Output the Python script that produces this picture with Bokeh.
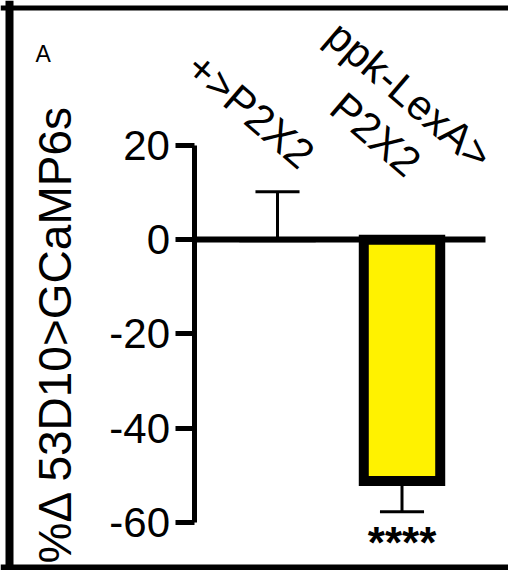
from bokeh.plotting import figure
from bokeh.models import (Range1d, LinearAxis, FixedTicker, Span, Label, ColumnDataSource,
                          PrintfTickFormatter)
from bokeh.core.properties import value
from bokeh.embed import file_html
from bokeh.resources import INLINE

# ---- data ----
categories = ["+>P2X2", "ppk-LexA>\nP2X2"]
means = [0.0, -51.2]
sems = [10.2, 6.5]
significance = ["", "****"]
y_ticks = [20, 0, -20, -40, -60]
y_label = "%\u0394 53D10>GCaMP6s"
panel_letter = "A"

# ---- styles / layout ----
FONT = "Liberation Sans"
bar_fill = ["white", "#FFF200"]
bar_line_w = [5, 10]
BAR_W = 0.614
CAP_HALF = 0.177
YAXIS_X = 0.3373
XAXIS_END = 2.6707
lbl_dx = [-0.217, -0.076]
lbl_y = [27.4, 26.5]

W, H = 508, 570
p = figure(width=W, height=H,
           x_range=Range1d(-1.2249, 2.8554), y_range=Range1d(-70.19, 50.77),
           x_axis_type=None, y_axis_type=None,
           toolbar_location=None, output_backend="svg", min_border=0)
p.outline_line_color = None
p.background_fill_color = "white"
p.border_fill_color = "white"

xs = [i + 1 for i in range(len(categories))]
tips = [m + (s if m >= 0 else -s) for m, s in zip(means, sems)]

src = ColumnDataSource(dict(x=xs, top=means, bottom=[0] * len(xs), fill=bar_fill, lw=bar_line_w,
                            tip=tips, x0=[x - CAP_HALF for x in xs], x1=[x + CAP_HALF for x in xs],
                            sig=significance))

# error bars (stems + caps)
p.segment(x0="x", y0="top", x1="x", y1="tip", source=src, line_color="black", line_width=3)
p.segment(x0="x0", y0="tip", x1="x1", y1="tip", source=src, line_color="black", line_width=3)

# bars
p.vbar(x="x", width=BAR_W, top="top", bottom="bottom", source=src,
       fill_color="fill", line_color="black", line_width="lw", line_join="miter")

# significance
p.text(x="x", y="tip", text="sig", source=src, y_offset=31,
       text_align="center", text_baseline="middle",
       text_font=value(FONT), text_font_size="44px", text_font_style="bold",
       text_color="black")

# category labels (rotated, above)
p.text(x=[x + d for x, d in zip(xs, lbl_dx)], y=lbl_y, text=categories, angle=-0.71,
       text_align="center", text_baseline="middle", text_line_height=1.1,
       text_font=value(FONT), text_font_size="42px", text_color="black")

# y axis
yaxis = LinearAxis(fixed_location=YAXIS_X, bounds=(min(y_ticks), max(y_ticks)),
                   ticker=FixedTicker(ticks=y_ticks), axis_label=y_label,
                   formatter=PrintfTickFormatter(format="%d"))
yaxis.axis_line_width = 5
yaxis.axis_line_color = "black"
yaxis.major_tick_line_width = 5
yaxis.major_tick_line_color = "black"
yaxis.major_tick_out = 19
yaxis.major_tick_in = 0
yaxis.minor_tick_out = 0
yaxis.minor_tick_in = 0
yaxis.major_label_text_font = FONT
yaxis.major_label_text_font_size = "42px"
yaxis.major_label_text_color = "black"
yaxis.major_label_standoff = 6
yaxis.axis_label_text_font = FONT
yaxis.axis_label_text_font_size = "46px"
yaxis.axis_label_text_font_style = "normal"
yaxis.axis_label_text_color = "black"
yaxis.axis_label_standoff = 25
p.add_layout(yaxis, "left")

# x axis line at zero
xaxis = LinearAxis(fixed_location=0, bounds=(YAXIS_X, XAXIS_END), ticker=FixedTicker(ticks=[]))
xaxis.axis_line_width = 6
xaxis.axis_line_color = "black"
xaxis.major_tick_out = 0
xaxis.major_tick_in = 0
xaxis.minor_tick_out = 0
xaxis.minor_tick_in = 0
xaxis.major_label_text_font_size = "0px"
p.add_layout(xaxis, "below")

# panel letter
p.add_layout(Label(x=-0.944, y=39.5, text=panel_letter, text_font=FONT, text_font_size="23px",
                   text_baseline="alphabetic", text_color="black"))

# frame border
p.add_layout(Span(location=-1.1526, dimension="height", line_color="black", line_width=8))
p.add_layout(Span(location=49.18, dimension="width", line_color="black", line_width=5))
p.add_layout(Span(location=-69.55, dimension="width", line_color="black", line_width=6))

open("out.html", "w").write(file_html(p, INLINE))
